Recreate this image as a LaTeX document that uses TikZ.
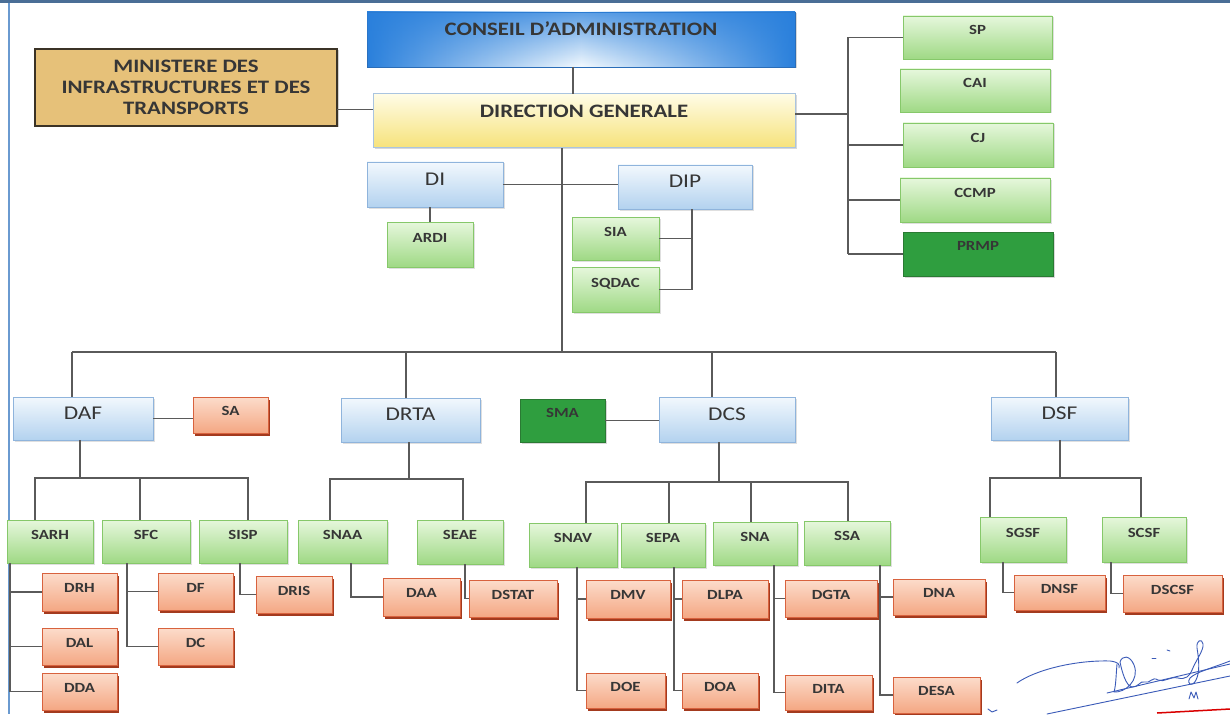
\documentclass[tikz,border=0pt]{standalone}
\usepackage{fontspec}
\newfontfamily\lab[FakeStretch=1.2]{Carlito}
\usetikzlibrary{shadows,fadings}
\definecolor{txt}{HTML}{363636}
\definecolor{wireC}{HTML}{5A5A5A}
\definecolor{hdrT}{HTML}{F2F8FD}
\definecolor{hdrBot}{HTML}{B3D2EF}
\definecolor{hdrB}{HTML}{8FB4DC}
\definecolor{caIn}{HTML}{F4FAFE}
\definecolor{caOut}{HTML}{2A80DC}
\definecolor{caB}{HTML}{2A6DB8}
\definecolor{dgT}{HTML}{FFFCE6}
\definecolor{dgBot}{HTML}{F6E27A}
\definecolor{dgB}{HTML}{A9C4E0}
\definecolor{grT}{HTML}{E6F7DC}
\definecolor{grBot}{HTML}{9FD985}
\definecolor{grB}{HTML}{86C86A}
\definecolor{orT}{HTML}{FCDCCB}
\definecolor{orBot}{HTML}{F4A783}
\definecolor{orB}{HTML}{D8623E}
\definecolor{orS}{HTML}{A33A1E}
\definecolor{dkg}{HTML}{2F9E3F}
\definecolor{dkgB}{HTML}{2A7A33}
\definecolor{tanF}{HTML}{E6C179}
\definecolor{tanB}{HTML}{3B3326}
\definecolor{frameT}{HTML}{4A6E96}
\definecolor{frameL}{HTML}{6A9AD0}
\definecolor{sigC}{HTML}{3A5AB8}
\newcommand\obox[7]{\node[#2, minimum width={(#5)-(#3)}, minimum height={(#6)-(#4)}] (#1) at ({((#3)+(#5))/2},{((#4)+(#6))/2}) {#7};}
\newcommand\kids[3]{\coordinate (k#1) at (#2,0); \foreach \c in {#3} {\draw[wire] (#1.south -| k#1) -- (\c.west -| k#1) -- (\c.west);}}
\begin{document}
\begin{tikzpicture}[x=1pt,y=-1pt,
  box/.style={rectangle, inner sep=0pt, outer sep=0pt, text=txt, align=center},
  hdr/.style={box, draw=hdrB, line width=0.8pt, top color=hdrT, bottom color=hdrBot,
    font=\lab\fontsize{19.5}{22}\selectfont, text height=12.5pt, text depth=11pt,
    drop shadow={opacity=0.25, shadow xshift=1.5pt, shadow yshift=-1.5pt}},
  ca/.style={box, draw=caB, line width=0.6pt, left color=caOut, right color=caOut, middle color=caIn,
    postaction={fill=caOut, fill opacity=0.75, path fading=south},
    font=\lab\bfseries\fontsize{19}{22}\selectfont, text height=12.2pt, text depth=21pt,
    drop shadow={opacity=0.3, shadow xshift=1.5pt, shadow yshift=-1.5pt}},
  dgen/.style={box, draw=dgB, line width=1pt, top color=dgT, bottom color=dgBot,
    font=\lab\bfseries\fontsize{19}{22}\selectfont, text height=12.2pt, text depth=18.6pt,
    drop shadow={opacity=0.3, shadow xshift=1.5pt, shadow yshift=-1.5pt}},
  tan/.style={box, draw=tanB, line width=1.8pt, fill=tanF,
    font=\lab\bfseries\fontsize{19}{21}\selectfont,
    drop shadow={opacity=0.35, shadow xshift=1.5pt, shadow yshift=-1.5pt}},
  grn/.style={box, draw=grB, line width=0.8pt, top color=grT, bottom color=grBot,
    font=\lab\bfseries\fontsize{14}{16}\selectfont, text height=9pt, text depth=14pt,
    drop shadow={opacity=0.25, shadow xshift=1.5pt, shadow yshift=-1.5pt}},
  dgrn/.style={box, draw=dkgB, line width=0.8pt, fill=dkg,
    font=\lab\bfseries\fontsize{14}{16}\selectfont, text height=9pt, text depth=16pt,
    drop shadow={opacity=0.3, shadow xshift=1.5pt, shadow yshift=-1.5pt}},
  org/.style={box, draw=orB, line width=0.8pt, top color=orT, bottom color=orBot,
    font=\lab\bfseries\fontsize{14}{16}\selectfont, text height=9pt, text depth=8pt,
    drop shadow={fill=orS, opacity=1, shadow xshift=2pt, shadow yshift=-2.5pt}},
  wire/.style={draw=wireC, line width=1.5pt},
  sig/.style={draw=sigC, line width=0.9pt, line cap=round, line join=round}
]
\fill[white] (0,0) rectangle (1230,714);
\useasboundingbox (0,0) rectangle (1230,714);
% frame
\draw[frameT, line width=3pt] (0,1.5) -- (1230,1.5);
\draw[frameL, line width=1.8pt] (9,3) -- (9,714);
% top boxes
\obox{CA}{ca}{367}{12}{795}{67}{CONSEIL D’ADMINISTRATION}
\obox{DG}{dgen}{373}{94}{795}{148}{DIRECTION GENERALE}
\obox{MIN}{tan}{35}{49}{337}{126}{MINISTERE DES\\INFRASTRUCTURES ET DES\\TRANSPORTS}
\obox{SP}{grn}{903}{16}{1052}{59}{SP}
\obox{CAI}{grn}{900}{69}{1050}{112}{CAI}
\obox{CJ}{grn}{903}{123}{1053}{167}{CJ}
\obox{CCMP}{grn}{900}{178}{1050}{222}{CCMP}
\obox{PRMP}{dgrn}{903}{232}{1053}{276}{PRMP}
\obox{DI}{hdr}{367}{162}{503}{207}{DI}
\obox{DIP}{hdr}{618}{165}{752}{209}{DIP}
\obox{ARDI}{grn}{387}{222}{473}{267}{ARDI}
\obox{SIA}{grn}{572}{217}{659}{260}{SIA}
\obox{SQDAC}{grn}{572}{267}{659}{312}{SQDAC}
% level 1
\obox{DAF}{hdr}{13}{397}{153}{440}{DAF}
\obox{SA}{org}{193}{397}{268}{433}{SA}
\obox{DRTA}{hdr}{341}{398}{480}{442}{DRTA}
\obox{SMA}{dgrn}{520}{399}{605}{442}{SMA}
\obox{DCS}{hdr}{659}{397}{795}{442}{DCS}
\obox{DSF}{hdr}{991}{397}{1128}{440}{DSF}
% level 2
\obox{SARH}{grn}{7}{520}{93}{563}{SARH}
\obox{SFC}{grn}{102}{520}{190}{563}{SFC}
\obox{SISP}{grn}{199}{520}{287}{563}{SISP}
\obox{SNAA}{grn}{298}{520}{387}{563}{SNAA}
\obox{SEAE}{grn}{417}{520}{503}{564}{SEAE}
\obox{SNAV}{grn}{529}{523}{617}{567}{SNAV}
\obox{SEPA}{grn}{621}{523}{705}{567}{SEPA}
\obox{SNA}{grn}{713}{522}{797}{565}{SNA}
\obox{SSA}{grn}{804}{521}{890}{565}{SSA}
\obox{SGSF}{grn}{980}{517}{1066}{562}{SGSF}
\obox{SCSF}{grn}{1102}{517}{1186}{562}{SCSF}
% level 3
\obox{DRH}{org}{42}{573}{117}{611}{DRH}
\obox{DAL}{org}{42}{628}{117}{665}{DAL}
\obox{DDA}{org}{42}{673}{117}{710}{DDA}
\obox{DF}{org}{158}{573}{233}{610}{DF}
\obox{DC}{org}{158}{628}{233}{665}{DC}
\obox{DRIS}{org}{256}{576}{332}{613}{DRIS}
\obox{DAA}{org}{383}{578}{460}{616}{DAA}
\obox{DSTAT}{org}{469}{580}{557}{617}{DSTAT}
\obox{DMV}{org}{586}{580}{670}{618}{DMV}
\obox{DOE}{org}{586}{673}{665}{708}{DOE}
\obox{DLPA}{org}{682}{580}{768}{618}{DLPA}
\obox{DOA}{org}{682}{673}{758}{708}{DOA}
\obox{DGTA}{org}{785}{580}{877}{617}{DGTA}
\obox{DITA}{org}{785}{675}{872}{710}{DITA}
\obox{DNA}{org}{893}{579}{985}{615}{DNA}
\obox{DESA}{org}{893}{677}{980}{713}{DESA}
\obox{DNSF}{org}{1014}{575}{1105}{610}{DNSF}
\obox{DSCSF}{org}{1123}{575}{1222}{612}{DSCSF}
% connectors top
\draw[wire] ([xshift=-8pt]CA.south) -- ([xshift=-8pt]CA.south |- DG.north);
\draw[wire] ([yshift=-22pt]MIN.east) -- ([yshift=-22pt]MIN.east -| DG.west);
\coordinate (rb) at (848,114);
\draw[wire] (DG.east |- rb) -- (rb);
\draw[wire] (SP.west -| rb) -- (PRMP.west -| rb);
\foreach \n in {SP,CJ,CCMP,PRMP} {\draw[wire] (\n.west -| rb) -- (\n.west);}
\coordinate (tk) at (562,352);
\draw[wire] (DG.south -| tk) -- (tk);
\draw[wire] (DI.east) -- (DI.east -| DIP.west);
\draw[wire] (ARDI.north) -- (ARDI.north |- DI.south);
\coordinate (dp) at (692,0);
\draw[wire] (DIP.south -| dp) -- (SQDAC.east -| dp) -- (SQDAC.east);
\draw[wire] (SIA.east) -- (SIA.east -| dp);
% level 1 bus
\coordinate (d1) at (72,352);
\coordinate (d2) at (406,352);
\coordinate (d3) at (712,352);
\coordinate (d4) at (1056,352);
\draw[wire] (d1) -- (d4);
\foreach \c/\n in {d1/DAF,d2/DRTA,d3/DCS,d4/DSF} {\draw[wire] (\c) -- (\c |- \n.north);}
\draw[wire] (DAF.east) -- (DAF.east -| SA.west);
\draw[wire] (SMA.east) -- (SMA.east -| DCS.west);
% DAF
\coordinate (a0) at (80,478); \coordinate (a1) at (35,478);
\coordinate (a2) at (140,478); \coordinate (a3) at (248,478);
\draw[wire] (DAF.south -| a0) -- (a0);
\draw[wire] (SARH.north -| a1) -- (a1) -- (a3) -- (SISP.north -| a3);
\draw[wire] (a2) -- (SFC.north -| a2);
% DRTA
\coordinate (r0) at (409,479); \coordinate (r1) at (330,479); \coordinate (r2) at (463,479);
\draw[wire] (DRTA.south -| r0) -- (r0);
\draw[wire] (SNAA.north -| r1) -- (r1) -- (r2) -- (SEAE.north -| r2);
% DCS
\coordinate (c0) at (719,482); \coordinate (c1) at (586,482); \coordinate (c2) at (669,482);
\coordinate (c3) at (751,482); \coordinate (c4) at (848,482);
\draw[wire] (DCS.south -| c0) -- (c0);
\draw[wire] (SNAV.north -| c1) -- (c1) -- (c4) -- (SSA.north -| c4);
\draw[wire] (c2) -- (SEPA.north -| c2);
\draw[wire] (c3) -- (SNA.north -| c3);
% DSF
\coordinate (f0) at (1060,478); \coordinate (f1) at (990,478); \coordinate (f2) at (1141,478);
\draw[wire] (DSF.south -| f0) -- (f0);
\draw[wire] (SGSF.north -| f1) -- (f1) -- (f2) -- (SCSF.north -| f2);
% level 3
\kids{SARH}{10}{DRH,DAL,DDA}
\kids{SFC}{127}{DF,DC}
\kids{SISP}{240}{DRIS}
\kids{SNAA}{351}{DAA}
\kids{SEAE}{465}{DSTAT}
\kids{SNAV}{577}{DMV,DOE}
\kids{SEPA}{674}{DLPA,DOA}
\kids{SNA}{774}{DGTA,DITA}
\kids{SSA}{880}{DNA,DESA}
\kids{SGSF}{1003}{DNSF}
\kids{SCSF}{1111}{DSCSF}
% signature
\draw[sig] (1017,683) .. controls (1035,670) and (1075,660) .. (1110,661) .. controls (1118,662) and (1120,664) .. (1119,668);
\draw[sig] (1117,664) .. controls (1116,675) and (1116,685) .. (1114,692)
  .. controls (1125,693) and (1140,680) .. (1134,665) .. controls (1130,655) and (1122,655) .. (1120,662)
  .. controls (1122,672) and (1126,686) .. (1132,687) .. controls (1138,688) and (1140,680) .. (1145,682)
  .. controls (1150,684) and (1152,676) .. (1158,680) .. controls (1164,683) and (1170,676) .. (1178,678)
  .. controls (1185,680) and (1190,676) .. (1192,670);
\draw[sig] (1192,670) .. controls (1196,660) and (1204,650) .. (1203,644) .. controls (1202,638) and (1196,640) .. (1197,648)
  .. controls (1199,660) and (1200,672) .. (1196,680) .. controls (1192,688) and (1186,684) .. (1190,678)
  .. controls (1196,672) and (1212,668) .. (1230,661);
\draw[sig] (1047,714) -- (1230,676);
\draw[sig] (1107,693) -- (1230,664);
\draw[sig] (1152,658) -- (1156,658);
\draw[sig] (1167,650) -- (1170,651);
\draw[sig] (1189,699) -- (1191,692) -- (1194,698) -- (1196,692) -- (1198,699);
\draw[sig] (988,709) -- (992,712) -- (997,710);
\draw[red!85!black, line width=1.5pt] (1157,713) -- (1230,709);
\end{tikzpicture}
\end{document}
